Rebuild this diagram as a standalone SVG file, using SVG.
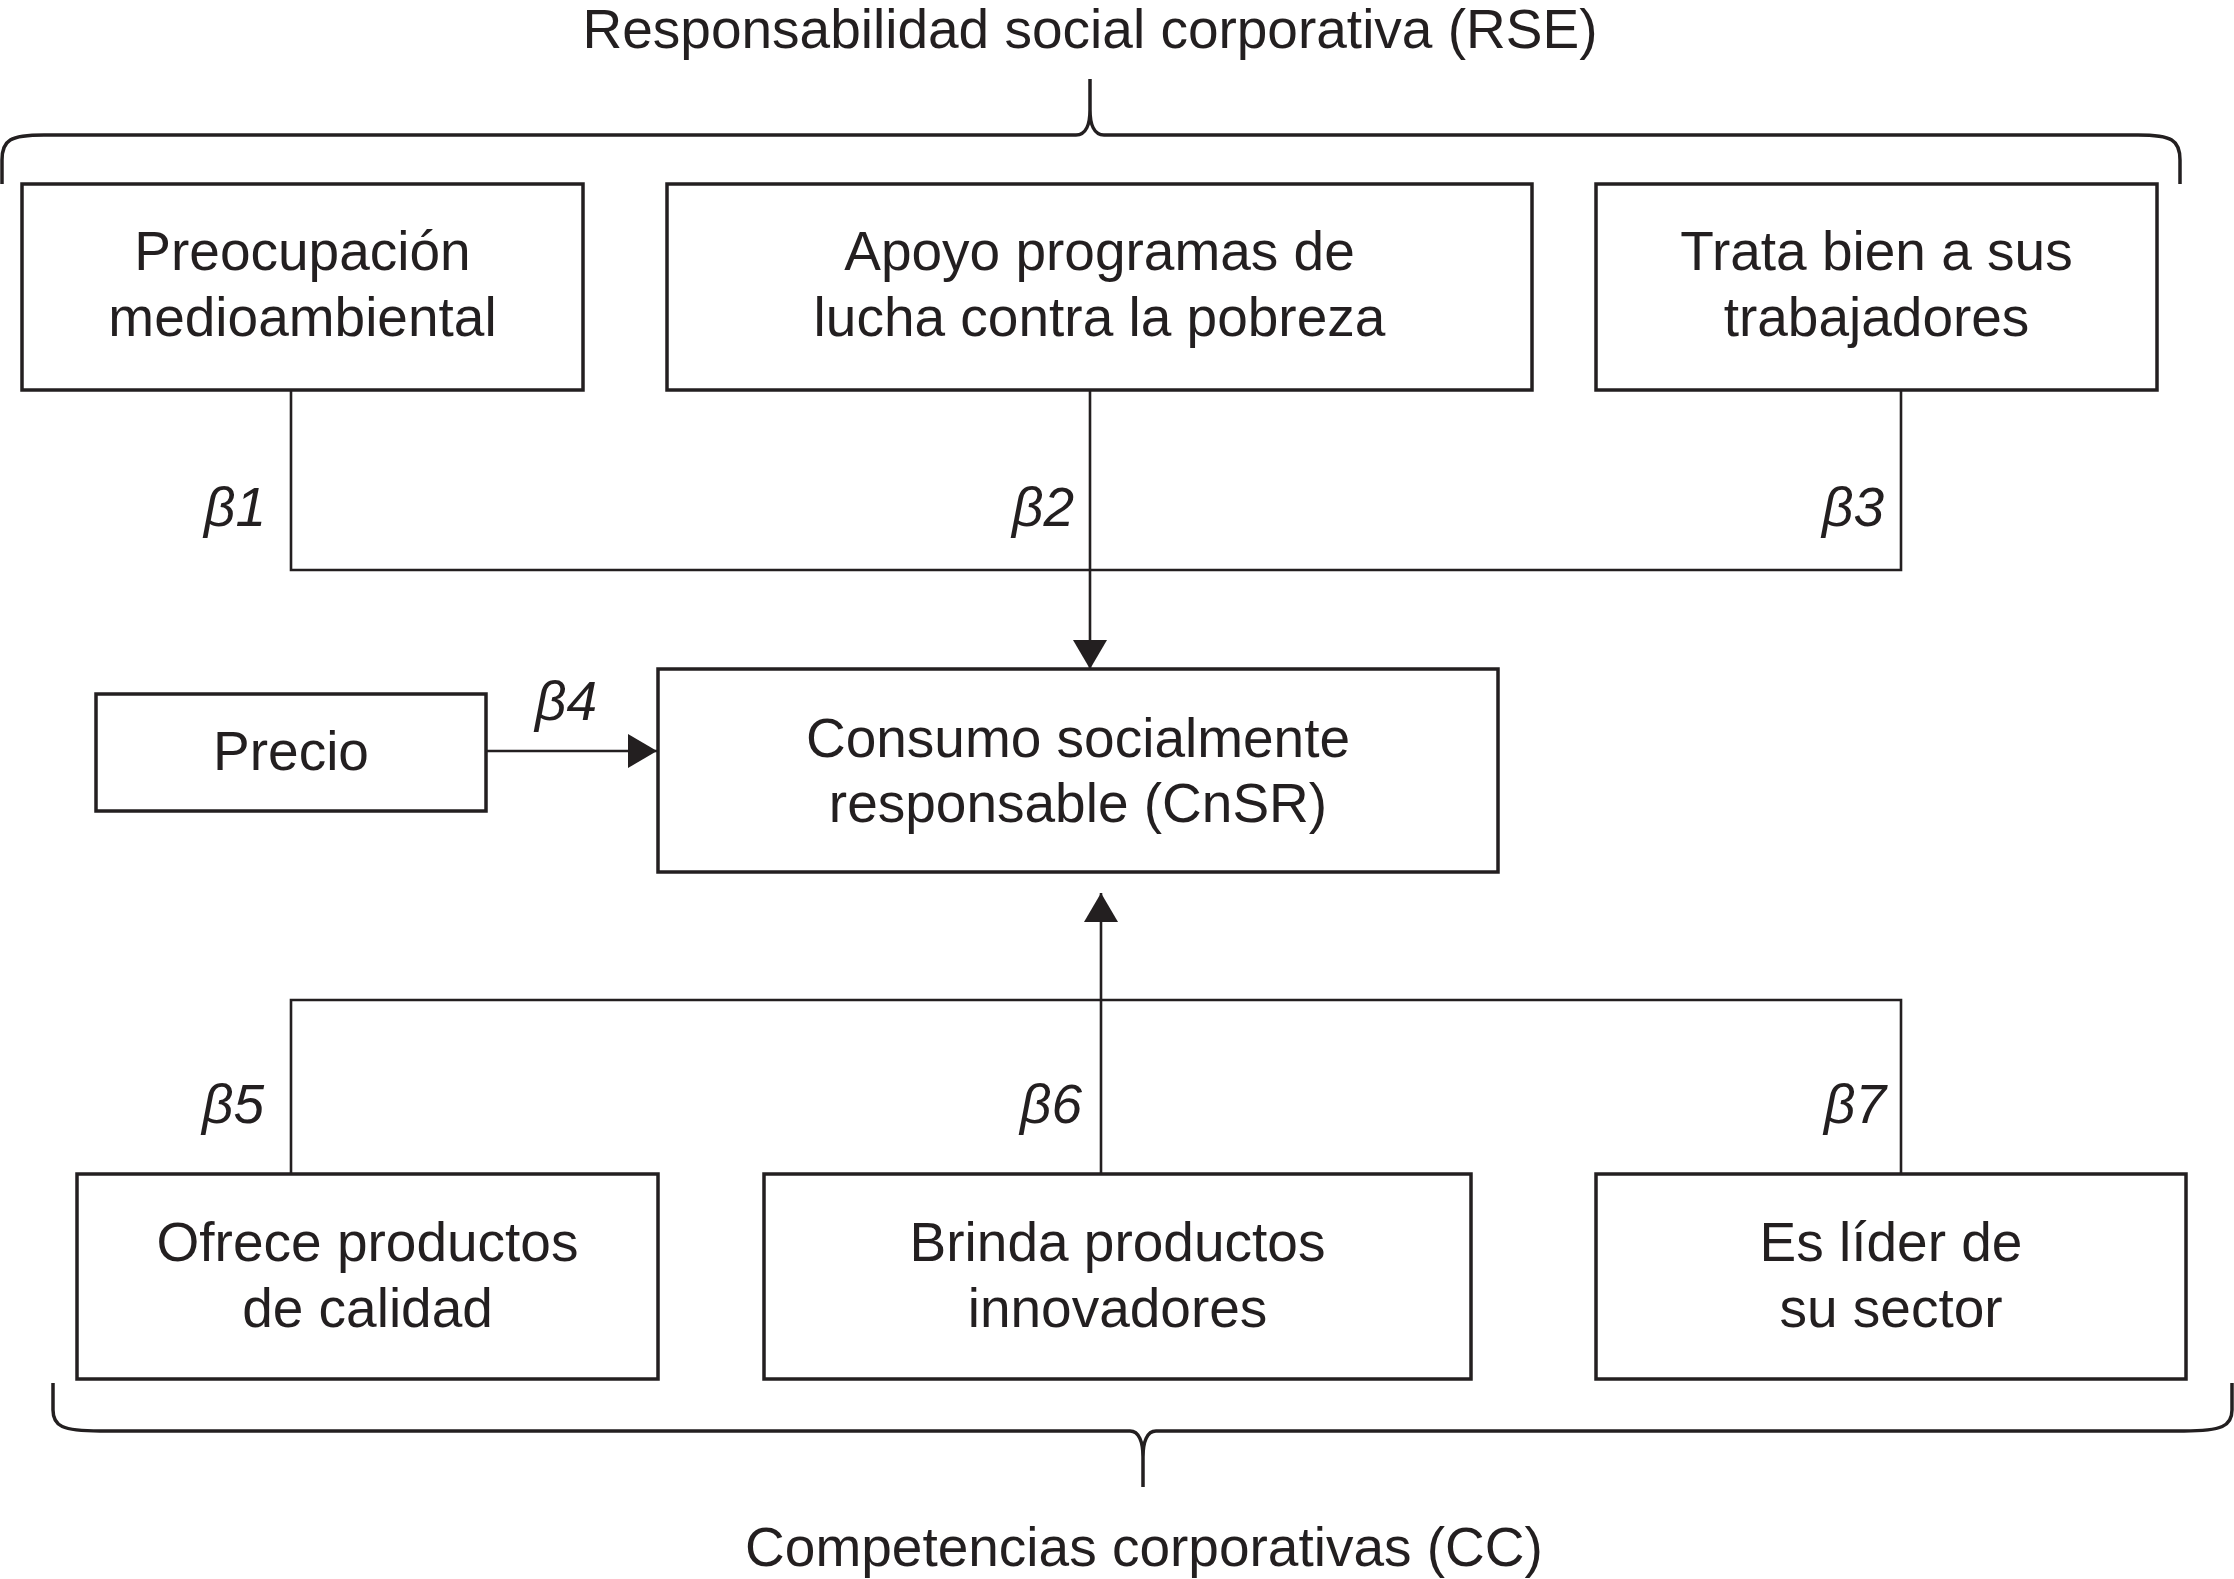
<svg xmlns="http://www.w3.org/2000/svg" width="2234" height="1579" viewBox="0 0 2234 1579">
<style>
.box{fill:#fff;stroke:#231f20;stroke-width:3.5}
.conn{fill:none;stroke:#231f20;stroke-width:2.6}
.brace{fill:none;stroke:#231f20;stroke-width:3.5;stroke-linejoin:round}
text{font-family:"Liberation Sans",Arial,Helvetica,sans-serif;font-size:55px;fill:#231f20}
.c{text-anchor:middle}
.b{font-style:italic}
</style>
<defs>
<marker id="arr" viewBox="0 -17 29 34" markerWidth="29" markerHeight="34" refX="29" refY="0" orient="auto" markerUnits="userSpaceOnUse">
<path d="M0,-17 L29,0 L0,17 Z" fill="#231f20"/>
</marker>
</defs>
<rect width="2234" height="1579" fill="#fff"/>

<g id="brace-rse">
<path class="brace" d="M2,184 L2,160 C2,140 10,135 44,135 L1076,135 C1086,135 1090,124 1090,110 L1090,79 M1090,110 C1090,124 1094,135 1104,135 L2138,135 C2172,135 2180,140 2180,160 L2180,184"/>
<text class="c" x="1090" y="48">Responsabilidad social corporativa (RSE)</text>
</g>

<g id="brace-cc">
<path class="brace" d="M53,1383 L53,1410 C53,1426 62,1431 100,1431 L1130,1431 C1139,1431 1143,1442 1143,1457 L1143,1487 M1143,1457 C1143,1442 1147,1431 1156,1431 L2184,1431 C2222,1431 2232,1426 2232,1410 L2232,1383"/>
<text class="c" x="1144" y="1566">Competencias corporativas (CC)</text>
</g>

<g id="connectors">
<path class="conn" d="M291,390 V570 H1901 V390"/>
<path class="conn" d="M1090,390 V669" marker-end="url(#arr)"/>
<path class="conn" d="M486,751 H657" stroke-width="3" marker-end="url(#arr)"/>
<path class="conn" d="M291,1174 V1000 H1901 V1174"/>
<path class="conn" d="M1101,1174 V893" marker-end="url(#arr)"/>
<text class="b" x="204" y="526">β1</text>
<text class="b" x="1012" y="526">β2</text>
<text class="b" x="1822" y="526">β3</text>
<text class="b" x="535" y="720">β4</text>
<text class="b" x="202" y="1123">β5</text>
<text class="b" x="1020" y="1123">β6</text>
<text class="b" x="1824" y="1123">β7</text>
</g>

<g id="n-preocupacion">
<rect class="box" x="22" y="184" width="561" height="206"/>
<text class="c" x="302.5" y="270">Preocupación</text>
<text class="c" x="302.5" y="336">medioambiental</text>
</g>

<g id="n-apoyo">
<rect class="box" x="667" y="184" width="865" height="206"/>
<text class="c" x="1099.5" y="270">Apoyo programas de</text>
<text class="c" x="1099.5" y="336">lucha contra la pobreza</text>
</g>

<g id="n-trata">
<rect class="box" x="1596" y="184" width="561" height="206"/>
<text class="c" x="1876.5" y="270">Trata bien a sus</text>
<text class="c" x="1876.5" y="336">trabajadores</text>
</g>

<g id="n-precio">
<rect class="box" x="96" y="694" width="390" height="117"/>
<text class="c" x="291" y="770">Precio</text>
</g>

<g id="n-consumo">
<rect class="box" x="658" y="669" width="840" height="203"/>
<text class="c" x="1078" y="757">Consumo socialmente</text>
<text class="c" x="1078" y="822">responsable (CnSR)</text>
</g>

<g id="n-ofrece">
<rect class="box" x="77" y="1174" width="581" height="205"/>
<text class="c" x="367.5" y="1261">Ofrece productos</text>
<text class="c" x="367.5" y="1327">de calidad</text>
</g>

<g id="n-brinda">
<rect class="box" x="764" y="1174" width="707" height="205"/>
<text class="c" x="1117.5" y="1261">Brinda productos</text>
<text class="c" x="1117.5" y="1327">innovadores</text>
</g>

<g id="n-lider">
<rect class="box" x="1596" y="1174" width="590" height="205"/>
<text class="c" x="1891" y="1261">Es líder de</text>
<text class="c" x="1891" y="1327">su sector</text>
</g>
</svg>
